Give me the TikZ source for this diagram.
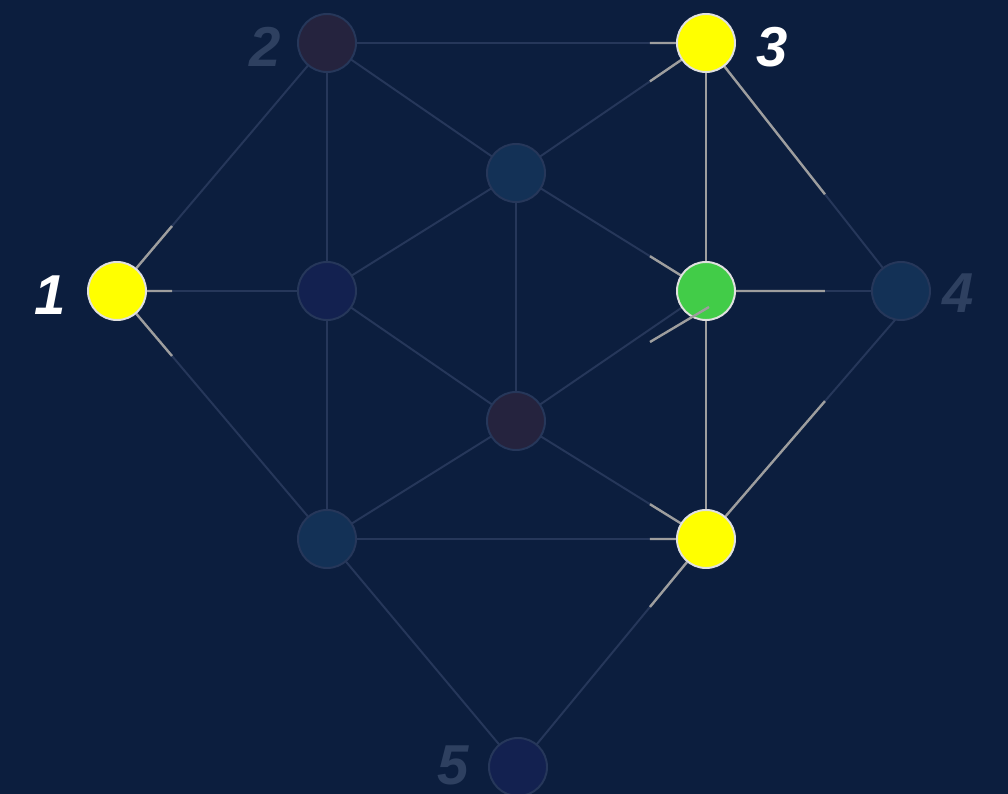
\documentclass[tikz,border=0pt]{standalone}
\usepackage{fontspec}
\setmainfont{Liberation Sans}
\usetikzlibrary{calc}
\definecolor{bgnavy}{RGB}{12,30,62}
\definecolor{vyel}{RGB}{255,255,0}
\definecolor{vgrn}{RGB}{66,204,72}
\definecolor{vplum}{RGB}{37,35,62}
\definecolor{vsteel}{RGB}{19,49,86}
\definecolor{vink}{RGB}{19,33,80}
\definecolor{dimline}{RGB}{38,55,90}
\definecolor{dimtxt}{RGB}{46,64,96}
\tikzset{
  vbase/.style={circle,minimum size=1.45cm,inner sep=0pt,line width=1.4pt},
  vhot/.style={vbase,draw=white!88!black,fill=vyel},
  vsel/.style={vbase,draw=white!88!black,fill=vgrn},
  vplm/.style={vbase,draw=dimline,fill=vplum},
  vstl/.style={vbase,draw=dimline,fill=vsteel},
  vink/.style={vbase,draw=dimline,fill=vink},
  lbl/.style={font=\fontsize{40}{40}\selectfont\bfseries\itshape},
  lon/.style={lbl,text=white},
  loff/.style={lbl,text=dimtxt},
  edim/.style={draw=dimline,line width=1.4pt},
  ehot/.style={draw=black!38!white,line width=1.7pt},
}
\begin{document}
\begin{tikzpicture}[x=0.025cm,y=-0.025cm]
\fill[bgnavy] (0,0) rectangle (1008,794);
\useasboundingbox (0,0) rectangle (1008,794);
% vertex positions
\coordinate (p1) at (117,291);
\coordinate (p2) at (327,43);
\coordinate (p3) at (706,43);
\coordinate (p4) at (901,291);
\coordinate (p4b) at (901,313);
\coordinate (p5) at (518,767);
\coordinate (q1) at (516,173);
\coordinate (q2) at (327,291);
\coordinate (q3) at (706,291);
\coordinate (q4) at (516,421);
\coordinate (q5) at (327,539);
\coordinate (q6) at (706,539);
% faded edges
\draw[edim] (p2) -- (p3);
\draw[edim] (p2) -- (q1);
\draw[edim] (p2) -- (q2);
\draw[edim] (p2) -- (p1);
\draw[edim] (p1) -- (q2);
\draw[edim] (p1) -- (q5);
\draw[edim] (q2) -- (q1);
\draw[edim] (q2) -- (q4);
\draw[edim] (q2) -- (q5);
\draw[edim] (q1) -- (p3);
\draw[edim] (q1) -- (q3);
\draw[edim] (q1) -- (q4);
\draw[edim] (q4) -- (q3);
\draw[edim] (q4) -- (q6);
\draw[edim] (q5) -- (q4);
\draw[edim] (q5) -- (q6);
\draw[edim] (q5) -- (p5);
\draw[edim] (p5) -- (q6);
\draw[edim] (p3) -- (p4);
\draw[edim] (q3) -- (p4);
\draw[edim] (q6) -- (p4b);
% lit parts of the edges
\coordinate (h12) at ($(p1)!0.262!(p2)$);
\coordinate (h1q2) at ($(p1)!0.262!(q2)$);
\coordinate (h1q5) at ($(p1)!0.262!(q5)$);
\coordinate (h32) at ($(p3)!0.148!(p2)$);
\coordinate (h3q1) at ($(p3)!0.295!(q1)$);
\coordinate (h34) at ($(p3)!0.61!(p4)$);
\coordinate (hgq1) at ($(q3)!0.295!(q1)$);
\coordinate (hg4) at ($(q3)!0.61!(p4)$);
\coordinate (hyq4) at ($(q6)!0.295!(q4)$);
\coordinate (hyq5) at ($(q6)!0.148!(q5)$);
\coordinate (hy5) at ($(q6)!0.298!(p5)$);
\coordinate (hy4) at ($(q6)!0.61!(p4b)$);
\draw[ehot] (p1) -- (h12);
\draw[ehot] (p1) -- (h1q2);
\draw[ehot] (p1) -- (h1q5);
\draw[ehot] (p3) -- (h32);
\draw[ehot] (p3) -- (h3q1);
\draw[ehot] (p3) -- (h34);
\draw[ehot] (p3) -- (q3);
\draw[ehot] (q3) -- (hgq1);
\draw[ehot] (q3) -- (hg4);
\draw[ehot] (q3) -- (q6);
\draw[ehot] (q6) -- (hyq4);
\draw[ehot] (q6) -- (hyq5);
\draw[ehot] (q6) -- (hy5);
\draw[ehot] (q6) -- (hy4);
% vertices
\node[vhot] (v1) at (p1) {};
\node[vplm] (v2) at (p2) {};
\node[vhot] (v3) at (p3) {};
\node[vstl] (v4) at (p4) {};
\node[vink] (v5) at (p5) {};
\node[vstl] (u1) at (q1) {};
\node[vink] (u2) at (q2) {};
\node[vsel] (u3) at (q3) {};
\node[vplm] (u4) at (q4) {};
\node[vstl] (u5) at (q5) {};
\node[vhot] (u6) at (q6) {};
% stray lit stroke over the green vertex
\coordinate (g1) at (650,342);
\coordinate (g2) at (709,307);
\draw[ehot] (g1) -- (g2);
% labels
\node[lon] (l1) at (50,295) {1};
\node[loff] (l2) at (265,47) {2};
\node[lon] (l3) at (772,47) {3};
\node[loff] (l4) at (958,293) {4};
\node[loff] (l5) at (453,765) {5};
\end{tikzpicture}
\end{document}
